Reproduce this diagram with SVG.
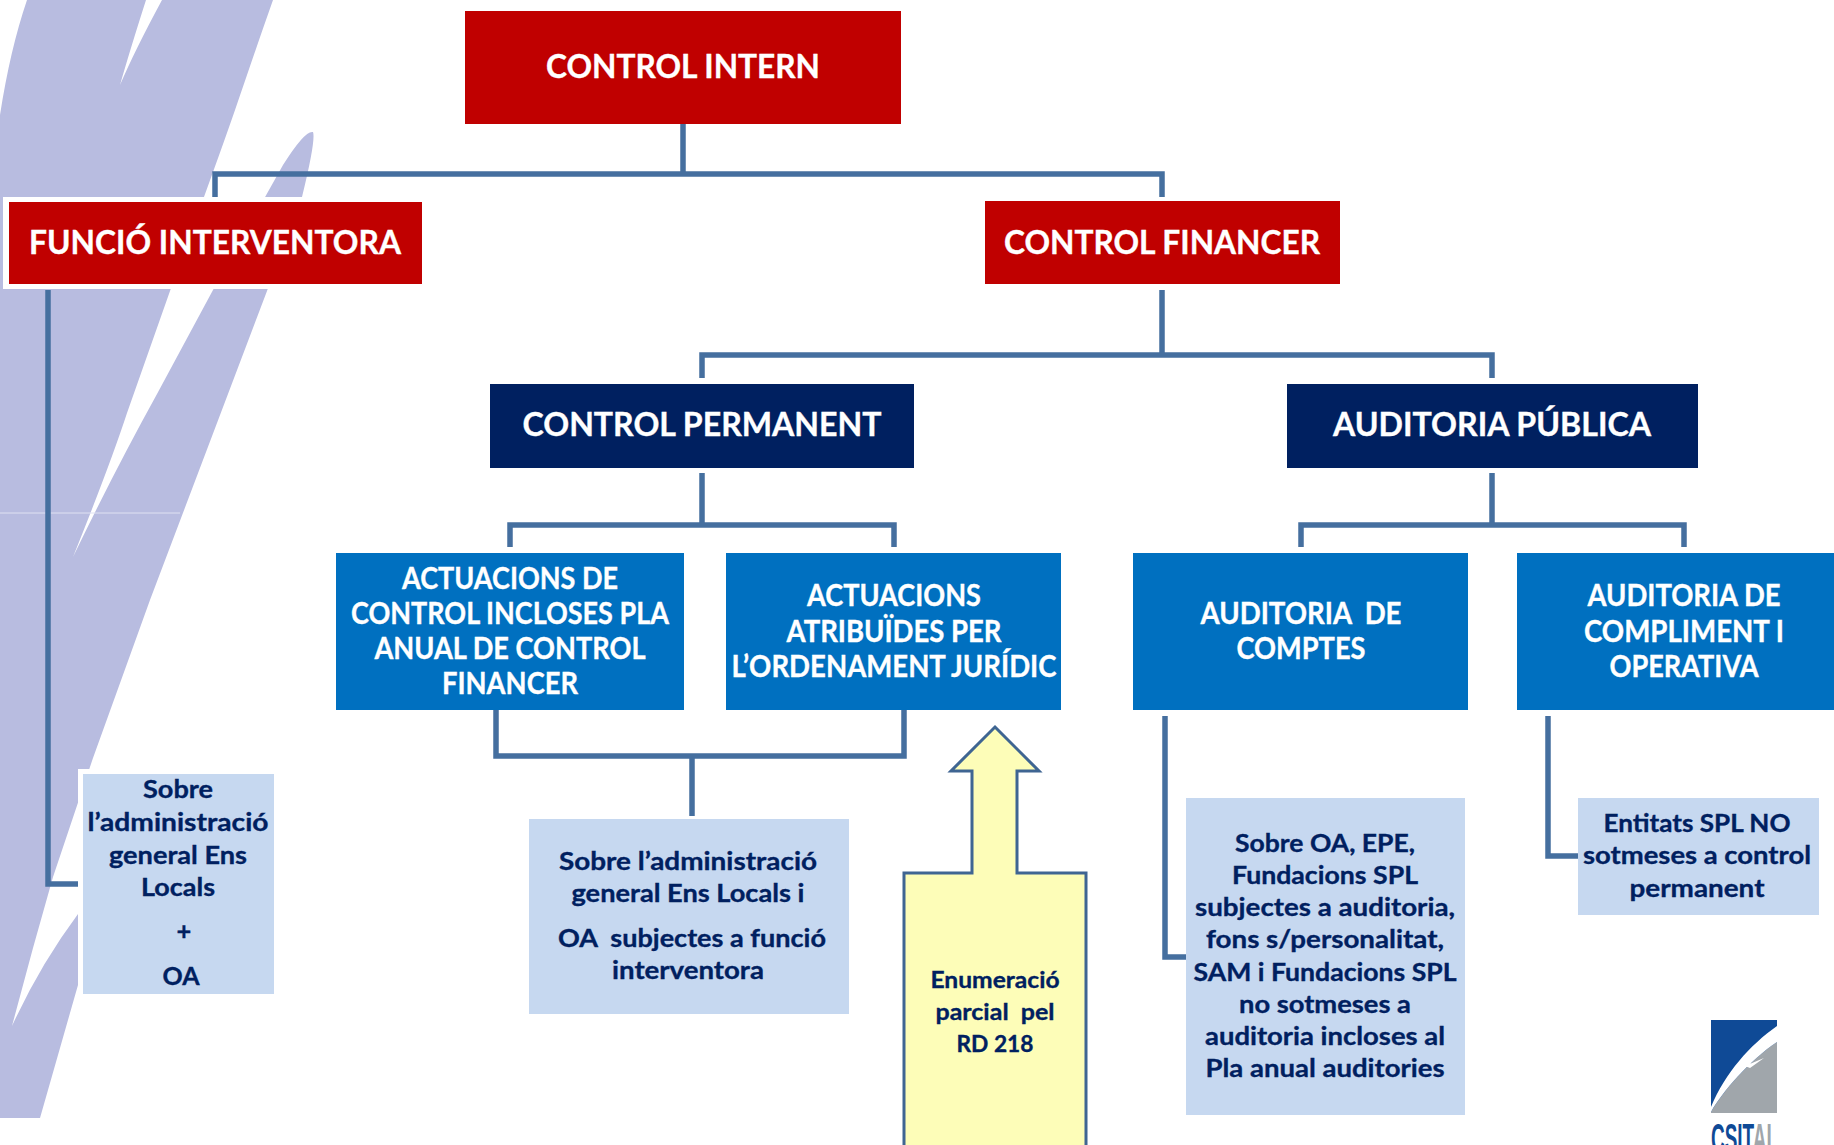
<svg xmlns="http://www.w3.org/2000/svg" width="1834" height="1145" viewBox="0 0 1834 1145">
<style>
text{font-family:Lato,"Open Sans","Liberation Sans",sans-serif;font-weight:700;text-anchor:middle;stroke-width:.35}
.w{fill:#fff;stroke:#fff}.d{fill:#002060;stroke:#002060}
.h1{font-size:32px}.h2{font-size:29.5px}.s{font-size:25.5px}.t{font-size:23px}
.red{fill:#c00000}.navy{fill:#002060}.blue{fill:#0070c0}.pale{fill:#c6d8f0}
.c{fill:none;stroke:#456f9f;stroke-width:5.5}
</style>
<g id="background">
<path d="M27 0H146Q130 50 120 85Q135 50 162 0H273C250 65 233 118 213 172L170 291L127 413Q110 465 73 557Q115 470 157 394L213 290L283 165Q305 130 313 132Q316 140 302 197L267 291L150 600L93 758L53 877L33 948L12 1026Q40 965 78 914V985L40 1118H0V115Q10 50 27 0Z" fill="#b8bce0"/>
<path d="M0 513H180" stroke="#dfe1f2" stroke-width="1"/>
</g>
<g id="connectors">
<path class="c" d="M683 124V174M215 197V174H1162V197"/>
<path class="c" d="M1162 290V355M702 378V355H1492V378"/>
<path class="c" d="M702 473V525M510 547V525H894V547"/>
<path class="c" d="M1492 473V525M1301 547V525H1684V547"/>
<path class="c" d="M496 710V756H904V710M692 756V816"/>
<path class="c" d="M48 290V884H78"/>
<path class="c" d="M1165 716V957H1186"/>
<path class="c" d="M1548 716V856H1578"/>
</g>
<g id="control-intern"><rect class="red" x="465" y="11" width="436" height="113"/><text class="w h1" x="683" y="78" textLength="274" lengthAdjust="spacingAndGlyphs">CONTROL INTERN</text></g>
<g id="funcio-interventora"><rect x="3" y="197" width="424" height="92" fill="#fff"/><rect class="red" x="9" y="202" width="413" height="82"/><text class="w h1" x="215" y="254" textLength="372" lengthAdjust="spacingAndGlyphs">FUNCIÓ INTERVENTORA</text></g>
<g id="control-financer"><rect class="red" x="985" y="201" width="355" height="83"/><text class="w h1" x="1162" y="254" textLength="316" lengthAdjust="spacingAndGlyphs">CONTROL FINANCER</text></g>
<g id="control-permanent"><rect class="navy" x="490" y="384" width="424" height="84"/><text class="w h1" x="702" y="436" textLength="359" lengthAdjust="spacingAndGlyphs">CONTROL PERMANENT</text></g>
<g id="auditoria-publica"><rect class="navy" x="1287" y="384" width="411" height="84"/><text class="w h1" x="1492" y="436" textLength="318" lengthAdjust="spacingAndGlyphs">AUDITORIA PÚBLICA</text></g>
<g id="actuacions-pla"><rect class="blue" x="336" y="553" width="348" height="157"/>
<text class="w h2" x="510" y="589" textLength="216" lengthAdjust="spacingAndGlyphs">ACTUACIONS DE</text>
<text class="w h2" x="510" y="624" textLength="318" lengthAdjust="spacingAndGlyphs">CONTROL INCLOSES PLA</text>
<text class="w h2" x="510" y="659" textLength="271" lengthAdjust="spacingAndGlyphs">ANUAL DE CONTROL</text>
<text class="w h2" x="510" y="694" textLength="136" lengthAdjust="spacingAndGlyphs">FINANCER</text></g>
<g id="actuacions-atribuides"><rect class="blue" x="726" y="553" width="335" height="157"/>
<text class="w h2" x="894" y="606" textLength="174" lengthAdjust="spacingAndGlyphs">ACTUACIONS</text>
<text class="w h2" x="894" y="642" textLength="215" lengthAdjust="spacingAndGlyphs">ATRIBUÏDES PER</text>
<text class="w h2" x="894" y="677" textLength="325" lengthAdjust="spacingAndGlyphs">L’ORDENAMENT JURÍDIC</text></g>
<g id="auditoria-comptes"><rect class="blue" x="1133" y="553" width="335" height="157"/>
<text class="w h2" x="1301" y="624" textLength="201" lengthAdjust="spacingAndGlyphs" xml:space="preserve">AUDITORIA  DE</text>
<text class="w h2" x="1301" y="659" textLength="129" lengthAdjust="spacingAndGlyphs">COMPTES</text></g>
<g id="auditoria-compliment"><rect class="blue" x="1517" y="553" width="317" height="157"/>
<text class="w h2" x="1684" y="606" textLength="193" lengthAdjust="spacingAndGlyphs">AUDITORIA DE</text>
<text class="w h2" x="1684" y="642" textLength="200" lengthAdjust="spacingAndGlyphs">COMPLIMENT I</text>
<text class="w h2" x="1684" y="677" textLength="149" lengthAdjust="spacingAndGlyphs">OPERATIVA</text></g>
<g id="nota-funcio"><rect x="78" y="769" width="196" height="225" fill="#fff"/><rect class="pale" x="83" y="774" width="191" height="220"/>
<text class="d s" x="178" y="798" textLength="70" lengthAdjust="spacingAndGlyphs">Sobre</text>
<text class="d s" x="178" y="831" textLength="181" lengthAdjust="spacingAndGlyphs">l’administració</text>
<text class="d s" x="178" y="864" textLength="138" lengthAdjust="spacingAndGlyphs">general Ens</text>
<text class="d s" x="178" y="896" textLength="74" lengthAdjust="spacingAndGlyphs">Locals</text>
<text class="d s" x="184" y="940">+</text>
<text class="d s" x="181" y="985" textLength="37" lengthAdjust="spacingAndGlyphs">OA</text></g>
<g id="nota-permanent"><rect class="pale" x="529" y="819" width="320" height="195"/>
<text class="d s" x="688" y="870" textLength="258" lengthAdjust="spacingAndGlyphs">Sobre l’administració</text>
<text class="d s" x="688" y="902" textLength="233" lengthAdjust="spacingAndGlyphs">general Ens Locals i</text>
<text class="d s" x="692" y="947" textLength="268" lengthAdjust="spacingAndGlyphs" xml:space="preserve">OA  subjectes a funció</text>
<text class="d s" x="688" y="979" textLength="152" lengthAdjust="spacingAndGlyphs">interventora</text></g>
<g id="enumeracio"><path d="M995 727L1039 771H1017V873H1086V1150H904V873H972V771H951Z" fill="#fdfdb8" stroke="#3f6592" stroke-width="3"/>
<text class="d t" x="995" y="988" textLength="129" lengthAdjust="spacingAndGlyphs">Enumeració</text>
<text class="d t" x="995" y="1020" textLength="119" lengthAdjust="spacingAndGlyphs" xml:space="preserve">parcial  pel</text>
<text class="d t" x="995" y="1052" textLength="77" lengthAdjust="spacingAndGlyphs">RD 218</text></g>
<g id="nota-comptes"><rect class="pale" x="1186" y="798" width="279" height="317"/>
<text class="d s" x="1325" y="852" textLength="180" lengthAdjust="spacingAndGlyphs">Sobre OA, EPE,</text>
<text class="d s" x="1325" y="884" textLength="186" lengthAdjust="spacingAndGlyphs">Fundacions SPL</text>
<text class="d s" x="1325" y="916" textLength="260" lengthAdjust="spacingAndGlyphs">subjectes a auditoria,</text>
<text class="d s" x="1325" y="948" textLength="238" lengthAdjust="spacingAndGlyphs">fons s/personalitat,</text>
<text class="d s" x="1325" y="981" textLength="263" lengthAdjust="spacingAndGlyphs">SAM i Fundacions SPL</text>
<text class="d s" x="1325" y="1013" textLength="172" lengthAdjust="spacingAndGlyphs">no sotmeses a</text>
<text class="d s" x="1325" y="1045" textLength="240" lengthAdjust="spacingAndGlyphs">auditoria incloses al</text>
<text class="d s" x="1325" y="1077" textLength="239" lengthAdjust="spacingAndGlyphs">Pla anual auditories</text></g>
<g id="nota-compliment"><rect class="pale" x="1578" y="798" width="241" height="117"/>
<text class="d s" x="1697" y="832" textLength="187" lengthAdjust="spacingAndGlyphs">Entitats SPL NO</text>
<text class="d s" x="1697" y="864" textLength="228" lengthAdjust="spacingAndGlyphs">sotmeses a control</text>
<text class="d s" x="1697" y="897" textLength="135" lengthAdjust="spacingAndGlyphs">permanent</text></g>
<g id="logo">
<rect x="1711" y="1020" width="66" height="93" fill="#0f4a96"/>
<path d="M1711 1113V1112C1722 1092 1750 1060 1777 1042V1113Z" fill="#a0a6ab"/>
<path d="M1711 1107C1725 1073 1750 1045 1777 1026V1042C1750 1060 1722 1092 1711 1112ZM1745 1066L1764 1058L1750 1068Z" fill="#fff"/>
<text x="1711" y="1152" font-size="40" style="text-anchor:start;font-family:'Liberation Sans',sans-serif;stroke:none" textLength="67" lengthAdjust="spacingAndGlyphs" fill="#0f4a96">CSIT<tspan fill="#a0a6ab">AL</tspan></text>
</g>
</svg>
